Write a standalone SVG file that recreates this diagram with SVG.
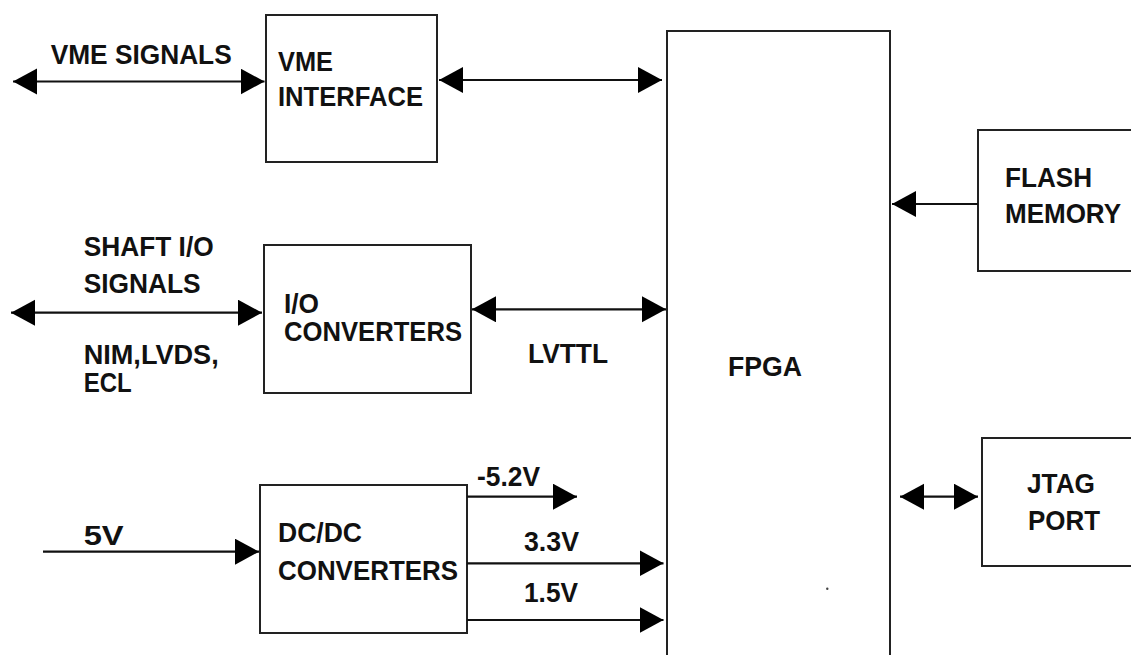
<svg xmlns="http://www.w3.org/2000/svg" width="1131" height="655" viewBox="0 0 1131 655">
<style>
.box{fill:#fff;stroke:#222;stroke-width:2}
.t{font-family:"Liberation Sans",Arial,sans-serif;font-weight:bold;font-size:28px;fill:#111}
.c{stroke:#111;stroke-width:2.2;fill:none}
</style>
<defs>
<marker id="ah" markerUnits="userSpaceOnUse" markerWidth="26" markerHeight="28" refX="24" refY="13" orient="auto-start-reverse" viewBox="0 0 26 28">
<path d="M0,0 L24,13 L0,26 z" fill="#000"/>
</marker>
</defs>
<rect width="1131" height="655" fill="#fff"/>
<g id="vme-interface">
<rect class="box" x="266" y="15" width="171" height="147"/>
<text class="t" x="278" y="70.7" textLength="55" lengthAdjust="spacingAndGlyphs">VME</text>
<text class="t" x="278" y="106" textLength="145" lengthAdjust="spacingAndGlyphs">INTERFACE</text>
</g>
<g id="io-converters">
<rect class="box" x="264" y="245" width="207" height="148"/>
<text class="t" x="284" y="312.7" textLength="35" lengthAdjust="spacingAndGlyphs">I/O</text>
<text class="t" x="284" y="340.7" textLength="178" lengthAdjust="spacingAndGlyphs">CONVERTERS</text>
</g>
<g id="dcdc-converters">
<rect class="box" x="260" y="485" width="207" height="148"/>
<text class="t" x="278" y="541.7" textLength="84" lengthAdjust="spacingAndGlyphs">DC/DC</text>
<text class="t" x="278" y="580" textLength="180" lengthAdjust="spacingAndGlyphs">CONVERTERS</text>
</g>
<g id="fpga">
<rect class="box" x="667" y="31" width="223" height="640"/>
<text class="t" x="728" y="376" textLength="74" lengthAdjust="spacingAndGlyphs">FPGA</text>
</g>
<g id="flash-memory">
<rect class="box" x="978" y="130" width="160" height="141"/>
<text class="t" x="1005" y="186.7" textLength="87" lengthAdjust="spacingAndGlyphs">FLASH</text>
<text class="t" x="1005" y="223.3" textLength="116" lengthAdjust="spacingAndGlyphs">MEMORY</text>
</g>
<g id="jtag-port">
<rect class="box" x="982" y="438" width="160" height="128"/>
<text class="t" x="1027" y="492.7" textLength="68" lengthAdjust="spacingAndGlyphs">JTAG</text>
<text class="t" x="1028" y="530" textLength="72" lengthAdjust="spacingAndGlyphs">PORT</text>
</g>
<g id="connectors">
<line class="c" x1="13" y1="81.5" x2="264.5" y2="81.5" marker-start="url(#ah)" marker-end="url(#ah)"/>
<line class="c" x1="439" y1="80" x2="662" y2="80" marker-start="url(#ah)" marker-end="url(#ah)"/>
<line class="c" x1="11" y1="312.7" x2="262" y2="312.7" marker-start="url(#ah)" marker-end="url(#ah)"/>
<line class="c" x1="472" y1="309.3" x2="666" y2="309.3" marker-start="url(#ah)" marker-end="url(#ah)"/>
<line class="c" x1="43" y1="551.7" x2="259" y2="551.7" marker-end="url(#ah)"/>
<line class="c" x1="467" y1="496.7" x2="577" y2="496.7" marker-end="url(#ah)"/>
<line class="c" x1="467" y1="563.3" x2="663.5" y2="563.3" marker-end="url(#ah)"/>
<line class="c" x1="467" y1="620" x2="663.5" y2="620" marker-end="url(#ah)"/>
<line class="c" x1="978" y1="204" x2="892" y2="204" marker-end="url(#ah)"/>
<line class="c" x1="900" y1="496.7" x2="978" y2="496.7" marker-start="url(#ah)" marker-end="url(#ah)"/>
</g>
<g id="labels">
<text class="t" x="50.7" y="64" textLength="181" lengthAdjust="spacingAndGlyphs">VME SIGNALS</text>
<text class="t" x="83.7" y="256" textLength="130" lengthAdjust="spacingAndGlyphs">SHAFT I/O</text>
<text class="t" x="83.7" y="292.7" textLength="117" lengthAdjust="spacingAndGlyphs">SIGNALS</text>
<text class="t" x="83.7" y="364" textLength="135" lengthAdjust="spacingAndGlyphs">NIM,LVDS,</text>
<text class="t" x="83.7" y="391.7" textLength="48" lengthAdjust="spacingAndGlyphs">ECL</text>
<text class="t" x="528" y="362.7" textLength="80" lengthAdjust="spacingAndGlyphs">LVTTL</text>
<text class="t" x="83.7" y="545" textLength="40" lengthAdjust="spacingAndGlyphs">5V</text>
<text class="t" x="477" y="485.7" textLength="63" lengthAdjust="spacingAndGlyphs">-5.2V</text>
<text class="t" x="524" y="551" textLength="55" lengthAdjust="spacingAndGlyphs">3.3V</text>
<text class="t" x="524" y="601.7" textLength="54" lengthAdjust="spacingAndGlyphs">1.5V</text>
</g>
<circle cx="827.3" cy="588.7" r="1.2" fill="#444"/>
</svg>
